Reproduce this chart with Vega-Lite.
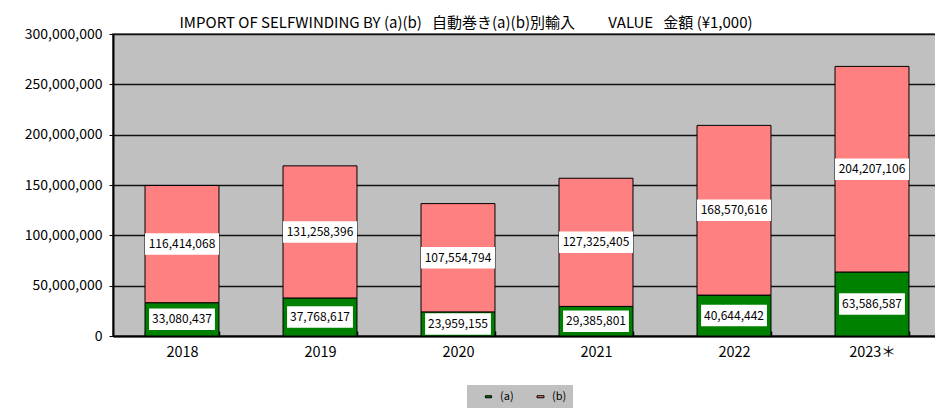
{
  "$schema": "https://vega.github.io/schema/vega-lite/v6.json",
  "width": 828,
  "height": 302,
  "autosize": {"type": "none"},
  "padding": {"left": 113, "top": 34, "right": 0, "bottom": 75},
  "background": "white",
  "title": {
    "text": "IMPORT OF SELFWINDING BY (a)(b)\u00a0\u00a0\u00a0自動巻き(a)(b)別輸入\u3000\u3000 VALUE\u00a0\u00a0\u00a0金額 (¥1,000)",
    "anchor": "middle",
    "dx": -61,
    "offset": -4,
    "fontSize": 15,
    "fontWeight": "normal",
    "color": "black"
  },
  "config": {
    "font": "Noto Sans CJK JP",
    "view": {"fill": "#C0C0C0", "stroke": "#808080", "strokeWidth": 2},
    "axis": {"labelColor": "black", "labelFontSize": 14, "labelFont": "Noto Sans CJK JP"}
  },
  "data": {
    "values": [
      {"year": "2018", "series": "(a)", "value": 33080437},
      {"year": "2018", "series": "(b)", "value": 116414068},
      {"year": "2019", "series": "(a)", "value": 37768617},
      {"year": "2019", "series": "(b)", "value": 131258396},
      {"year": "2020", "series": "(a)", "value": 23959155},
      {"year": "2020", "series": "(b)", "value": 107554794},
      {"year": "2021", "series": "(a)", "value": 29385801},
      {"year": "2021", "series": "(b)", "value": 127325405},
      {"year": "2022", "series": "(a)", "value": 40644442},
      {"year": "2022", "series": "(b)", "value": 168570616},
      {"year": "2023＊", "series": "(a)", "value": 63586587},
      {"year": "2023＊", "series": "(b)", "value": 204207106}
    ]
  },
  "encoding": {
    "x": {
      "field": "year",
      "type": "ordinal",
      "sort": null,
      "scale": {"paddingInner": 0.464, "paddingOuter": 0.232},
      "axis": {
        "title": null,
        "labelAngle": 0,
        "labelFontSize": 14.5,
        "domainColor": "black",
        "domainWidth": 2,
        "tickBand": "extent",
        "tickColor": "black",
        "tickSize": -5,
        "tickWidth": 1.5,
        "labelPadding": 14,
        "grid": false
      }
    }
  },
  "layer": [
    {
      "mark": {"type": "bar", "stroke": "black", "strokeWidth": 1},
      "encoding": {
        "y": {
          "field": "value",
          "type": "quantitative",
          "stack": "zero",
          "scale": {"domain": [0, 300000000]},
          "axis": {
            "title": null,
            "values": [0, 50000000, 100000000, 150000000, 200000000, 250000000, 300000000],
            "format": ",",
            "labelExpr": "format(datum.value, ',')",
            "labelFontSize": 14,
            "grid": true,
            "gridColor": "#111111",
            "gridWidth": 1.5,
            "domainColor": "black",
            "domainWidth": 2,
            "tickColor": "black",
            "tickSize": 4,
            "labelPadding": 7
          }
        },
        "color": {
          "field": "series",
          "type": "nominal",
          "scale": {"domain": ["(a)", "(b)"], "range": ["#008000", "#FF8080"]},
          "legend": {
            "orient": "none",
            "legendX": 354,
            "legendY": 351,
            "direction": "horizontal",
            "title": null,
            "fillColor": "#C0C0C0",
            "padding": 6,
            "symbolType": "square",
            "symbolSize": 49,
            "symbolStrokeColor": "black",
            "symbolStrokeWidth": 1,
            "symbolOffset": 10,
            "labelOffset": 6,
            "labelFontSize": 11,
            "labelColor": "black",
            "columnPadding": 11
          }
        },
        "order": {"field": "series", "sort": "ascending"}
      }
    },
    {
      "transform": [
        {"stack": "value", "groupby": ["year"], "sort": [{"field": "series", "order": "ascending"}], "as": ["v0", "v1"]},
        {"fold": ["v0", "v1"], "as": ["k", "pos"]},
        {"aggregate": [{"op": "mean", "field": "pos", "as": "mid"}], "groupby": ["year", "series", "value"]}
      ],
      "layer": [
        {
          "mark": {"type": "point", "filled": true, "fill": "white", "opacity": 1, "strokeWidth": 0, "size": 5476},
          "encoding": {
            "y": {
              "field": "mid",
              "type": "quantitative",
              "axis": {
                "title": null,
                "values": [0, 50000000, 100000000, 150000000, 200000000, 250000000, 300000000],
                "format": ",",
                "labelExpr": "format(datum.value, ',')",
                "labelFontSize": 14
              }
            },
            "shape": {
              "field": "series",
              "type": "nominal",
              "scale": {
                "domain": ["(a)", "(b)"],
                "range": ["M-0.89,-0.29L0.89,-0.29L0.89,0.29L-0.89,0.29Z", "M-1,-0.29L1,-0.29L1,0.29L-1,0.29Z"]
              },
              "legend": null
            }
          }
        },
        {
          "mark": {"type": "text", "fontSize": 12, "color": "black", "baseline": "middle", "align": "center"},
          "encoding": {
            "y": {
              "field": "mid",
              "type": "quantitative",
              "axis": {
                "title": null,
                "values": [0, 50000000, 100000000, 150000000, 200000000, 250000000, 300000000],
                "format": ",",
                "labelExpr": "format(datum.value, ',')",
                "labelFontSize": 14
              }
            },
            "text": {"field": "value", "type": "quantitative", "format": ","}
          }
        }
      ]
    }
  ]
}
